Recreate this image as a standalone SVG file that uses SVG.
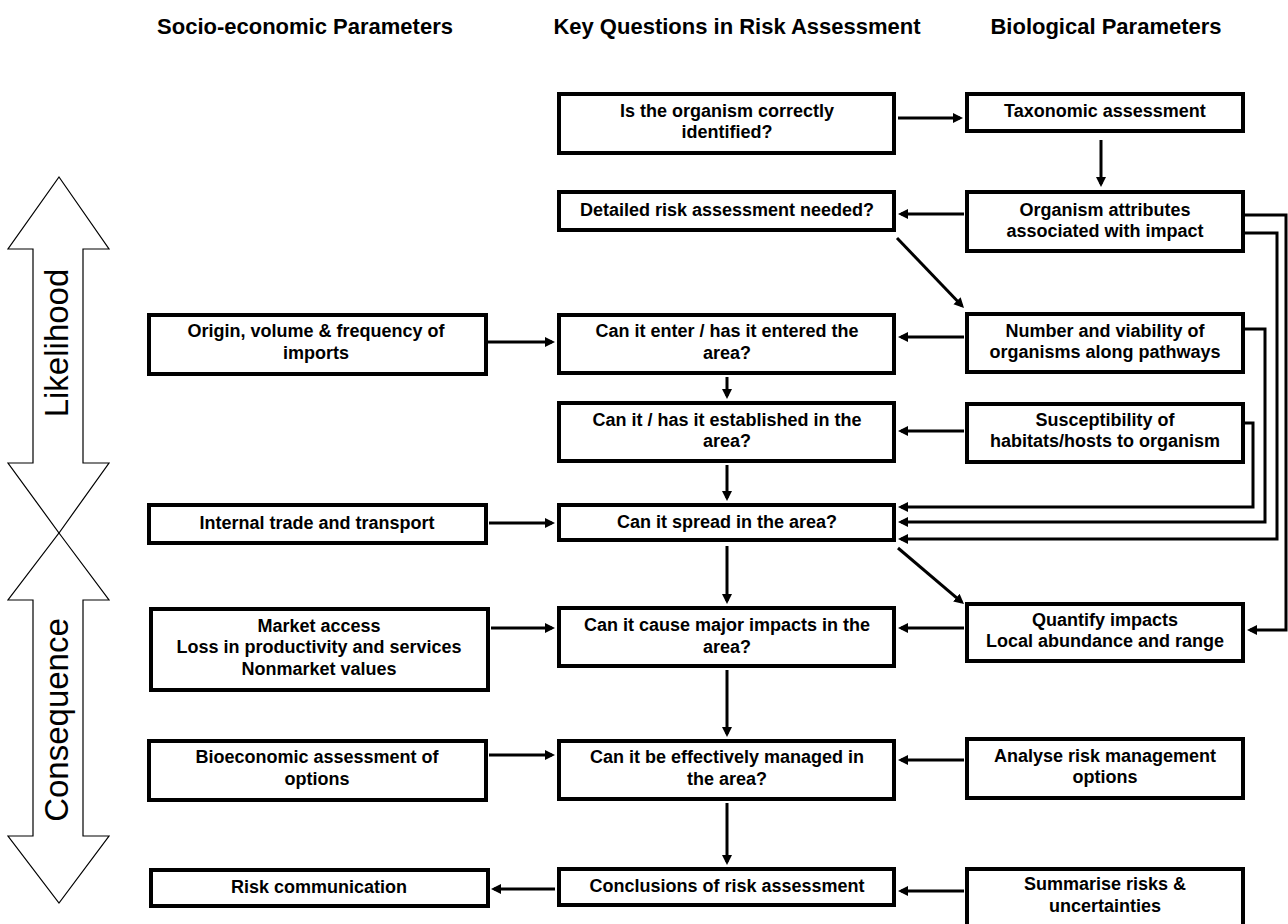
<svg xmlns="http://www.w3.org/2000/svg" width="1288" height="924" viewBox="0 0 1288 924">
<style>
.box{fill:#fff;stroke:#000;stroke-width:4}
.t{font-family:"Liberation Sans",Arial,sans-serif;font-weight:bold;font-size:18px;text-anchor:middle;fill:#000}
.h{font-family:"Liberation Sans",Arial,sans-serif;font-weight:bold;font-size:22px;text-anchor:middle;fill:#000}
.big{fill:#fff;stroke:#000;stroke-width:1.2}
.bt{font-family:"Liberation Sans",Arial,sans-serif;font-size:33px;text-anchor:middle;fill:#000}
.c{fill:none;stroke:#000;stroke-width:3}
.a{marker-end:url(#ah)}
</style>
<defs>
<marker id="ah" markerUnits="userSpaceOnUse" markerWidth="11" markerHeight="11" refX="7" refY="5" orient="auto">
<path d="M0,0 L10,5 L0,10 z" fill="#000"/>
</marker>
</defs>
<rect width="1288" height="924" fill="#fff"/>
<g id="headers">
<text class="h" x="305" y="34">Socio-economic Parameters</text>
<text class="h" x="737" y="34">Key Questions in Risk Assessment</text>
<text class="h" x="1106" y="34">Biological Parameters</text>
</g>
<g id="likelihood">
<polygon class="big" points="59,177 109,249 83,249 83,463 109,463 59,533 8,463 33,463 33,249 8,249"/>
<text class="bt" transform="translate(68,343) rotate(-90)">Likelihood</text>
</g>
<g id="consequence">
<polygon class="big" points="59,533 109,600 83,600 83,836 109,836 59,903 8,836 33,836 33,600 8,600"/>
<text class="bt" transform="translate(68,720) rotate(-90)">Consequence</text>
</g>
<g id="connectors">
<line class="c a" x1="898" y1="118" x2="960" y2="118"/>
<line class="c a" x1="1101" y1="140" x2="1101" y2="184"/>
<line class="c a" x1="964" y1="214" x2="901" y2="214"/>
<line class="c a" x1="897" y1="238" x2="961.9" y2="305.8"/>
<line class="c a" x1="964" y1="337" x2="901" y2="337"/>
<line class="c a" x1="488" y1="342" x2="552" y2="342"/>
<line class="c a" x1="727" y1="377" x2="727" y2="396"/>
<line class="c a" x1="964" y1="431" x2="901" y2="431"/>
<line class="c a" x1="727" y1="465" x2="727" y2="498"/>
<polyline class="c a" points="1245,423 1253,423 1253,507 901,507"/>
<polyline class="c a" points="1245,329 1265,329 1265,522 901,522"/>
<polyline class="c a" points="1245,233 1277,233 1277,539 901,539"/>
<polyline class="c a" points="1245,215 1286,215 1286,630 1250,630"/>
<line class="c a" x1="489" y1="523" x2="552" y2="523"/>
<line class="c a" x1="898" y1="548" x2="961.7" y2="602.1"/>
<line class="c a" x1="727" y1="546" x2="727" y2="601"/>
<line class="c a" x1="964" y1="628" x2="901" y2="628"/>
<line class="c a" x1="491" y1="628" x2="552" y2="628"/>
<line class="c a" x1="727" y1="670" x2="727" y2="734"/>
<line class="c a" x1="964" y1="760" x2="901" y2="760"/>
<line class="c a" x1="489" y1="755" x2="552" y2="755"/>
<line class="c a" x1="727" y1="803" x2="727" y2="862"/>
<line class="c a" x1="964" y1="891" x2="901" y2="891"/>
<line class="c a" x1="555" y1="889" x2="494" y2="889"/>
</g>
<g id="q1"><rect class="box" x="559" y="94" width="335" height="59"/><text class="t" x="727" y="117">Is the organism correctly</text><text class="t" x="727" y="138">identified?</text></g>
<g id="q2"><rect class="box" x="559" y="192" width="335" height="38"/><text class="t" x="727" y="216">Detailed risk assessment needed?</text></g>
<g id="q3"><rect class="box" x="559" y="315" width="335" height="58"/><text class="t" x="727" y="337">Can it enter / has it entered the</text><text class="t" x="727" y="359">area?</text></g>
<g id="q4"><rect class="box" x="559" y="403" width="335" height="58"/><text class="t" x="727" y="426">Can it / has it established in the</text><text class="t" x="727" y="447">area?</text></g>
<g id="q5"><rect class="box" x="559" y="505" width="335" height="35"/><text class="t" x="727" y="528">Can it spread in the area?</text></g>
<g id="q6"><rect class="box" x="559" y="608" width="335" height="58"/><text class="t" x="727" y="631">Can it cause major impacts in the</text><text class="t" x="727" y="653">area?</text></g>
<g id="q7"><rect class="box" x="559" y="741" width="335" height="58"/><text class="t" x="727" y="763">Can it be effectively managed in</text><text class="t" x="727" y="785">the area?</text></g>
<g id="q8"><rect class="box" x="559" y="869" width="335" height="36"/><text class="t" x="727" y="892">Conclusions of risk assessment</text></g>
<g id="b1"><rect class="box" x="967" y="94" width="276" height="37"/><text class="t" x="1105" y="117">Taxonomic assessment</text></g>
<g id="b2"><rect class="box" x="967" y="192" width="276" height="59"/><text class="t" x="1105" y="216">Organism attributes</text><text class="t" x="1105" y="237">associated with impact</text></g>
<g id="b3"><rect class="box" x="967" y="314" width="276" height="58"/><text class="t" x="1105" y="337">Number and viability of</text><text class="t" x="1105" y="358">organisms along pathways</text></g>
<g id="b4"><rect class="box" x="967" y="404" width="276" height="58"/><text class="t" x="1105" y="426">Susceptibility of</text><text class="t" x="1105" y="447">habitats/hosts to organism</text></g>
<g id="b5"><rect class="box" x="967" y="604" width="276" height="57"/><text class="t" x="1105" y="626">Quantify impacts</text><text class="t" x="1105" y="647">Local abundance and range</text></g>
<g id="b6"><rect class="box" x="967" y="739" width="276" height="59"/><text class="t" x="1105" y="762">Analyse risk management</text><text class="t" x="1105" y="783">options</text></g>
<g id="b7"><rect class="box" x="967" y="869" width="276" height="70"/><text class="t" x="1105" y="890">Summarise risks &amp;</text><text class="t" x="1105" y="912">uncertainties</text></g>
<g id="s1"><rect class="box" x="149" y="315" width="337" height="59"/><text class="t" x="316" y="337">Origin, volume &amp; frequency of</text><text class="t" x="316" y="359">imports</text></g>
<g id="s2"><rect class="box" x="149" y="505" width="337" height="38"/><text class="t" x="317" y="529">Internal trade and transport</text></g>
<g id="s3"><rect class="box" x="151" y="609" width="337" height="81"/><text class="t" x="319" y="632">Market access</text><text class="t" x="319" y="653">Loss in productivity and services</text><text class="t" x="319" y="675">Nonmarket values</text></g>
<g id="s4"><rect class="box" x="149" y="741" width="337" height="59"/><text class="t" x="317" y="763">Bioeconomic assessment of</text><text class="t" x="317" y="785">options</text></g>
<g id="s5"><rect class="box" x="151" y="870" width="337" height="36"/><text class="t" x="319" y="893">Risk communication</text></g>
</svg>
